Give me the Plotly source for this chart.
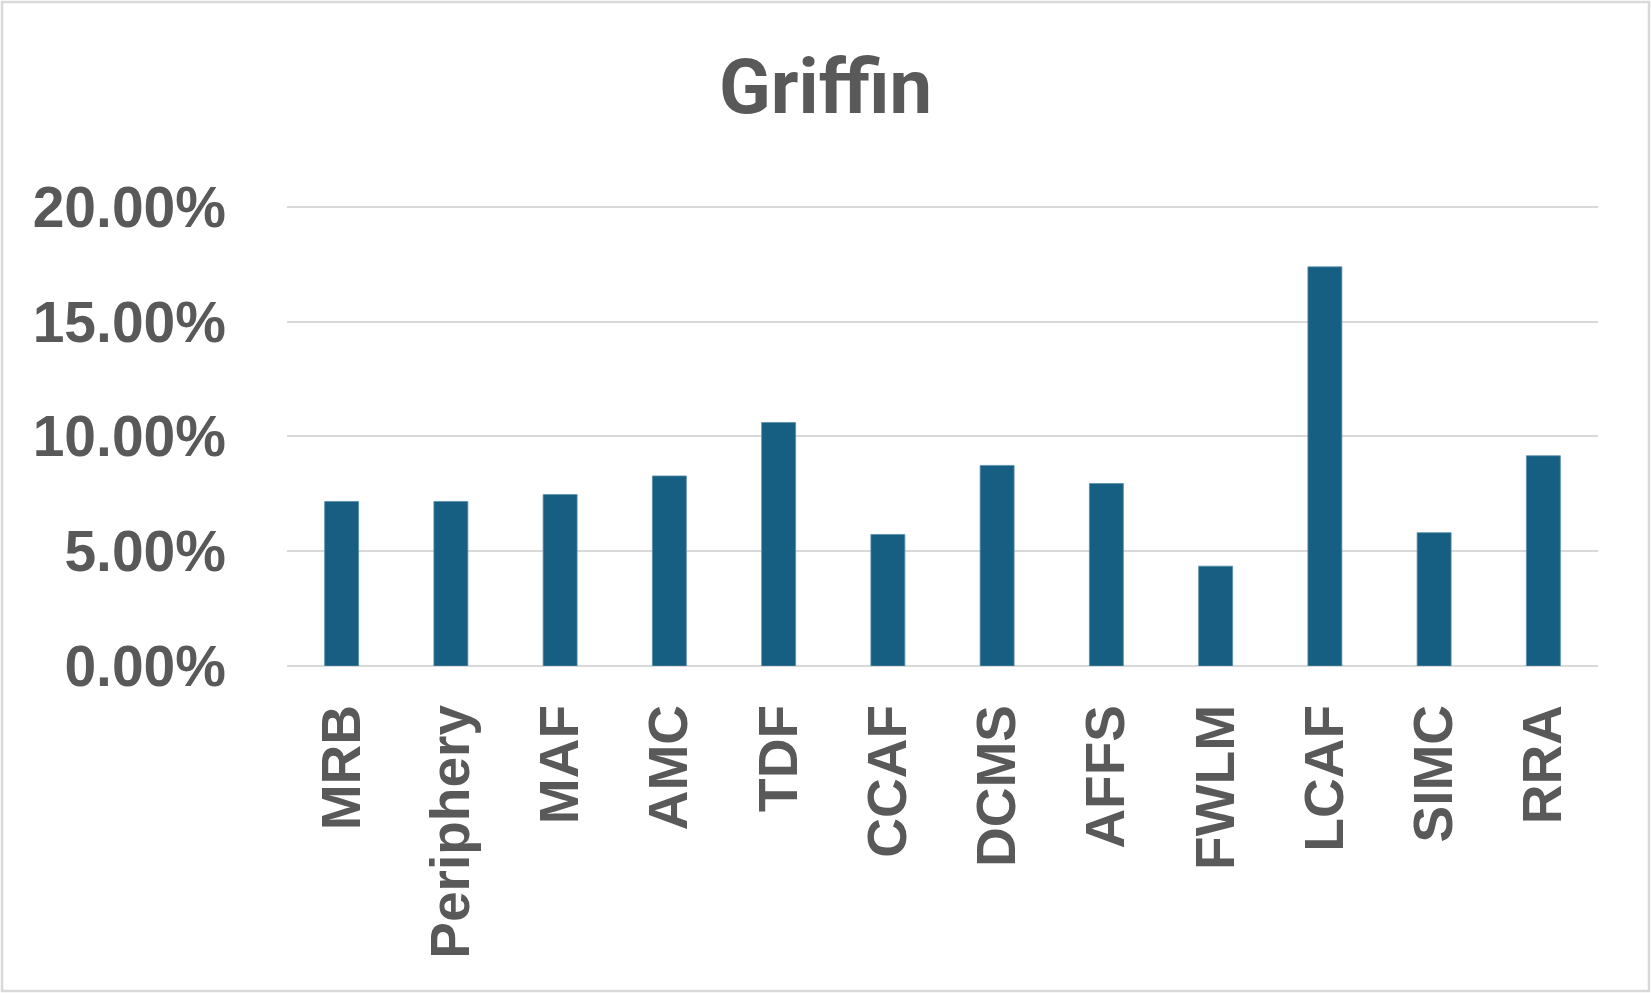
import plotly.graph_objects as go

categories = ["MRB", "Periphery", "MAF", "AMC", "TDF", "CCAF", "DCMS", "AFFS",
              "FWLM", "LCAF", "SIMC", "RRA"]
values = [0.0717, 0.0717, 0.0747, 0.0828, 0.1061, 0.0573, 0.0874, 0.0795,
          0.0435, 0.1739, 0.0581, 0.0916]
y_ticks = [0.0, 0.05, 0.10, 0.15, 0.20]
y_tick_labels = ["0.00%", "5.00%", "10.00%", "15.00%", "20.00%"]
title_text = "Griffin"

W, H = 1651, 993
Y_TOP = 0.21
ML, MR, MB = 287, 53, 327
PLOT_H_20 = (H - MB) - 207          # pixel height from 0% to 20%
MT = int(round((H - MB) - PLOT_H_20 * Y_TOP / 0.20))

TEXT = "#595959"
GRID = "#d9d9d9"
BAR = "#165f82"

fig = go.Figure(
    go.Bar(
        x=categories,
        y=values,
        marker=dict(color=BAR, line=dict(color="#5a8fab", width=0.8)),
        hoverinfo="x+y",
    )
)

fig.update_layout(
    width=W,
    height=H,
    margin=dict(l=ML, r=MR, t=MT, b=MB, pad=0),
    paper_bgcolor="white",
    plot_bgcolor="white",
    bargap=0.689,
    showlegend=False,
    title=dict(
        text=title_text,
        x=0.5,
        xanchor="center",
        xref="container",
        y=1 - 86 / H,
        yanchor="middle",
        yref="container",
        font=dict(family="Roboto", size=76, color=TEXT, weight="bold"),
    ),
    font=dict(family="Liberation Sans", color=TEXT),
)

fig.update_yaxes(
    range=[0, Y_TOP],
    tickvals=y_ticks,
    ticktext=y_tick_labels,
    showgrid=True,
    gridcolor=GRID,
    gridwidth=2,
    zeroline=True,
    zerolinecolor=GRID,
    zerolinewidth=2,
    showline=False,
    ticks="",
    ticklabelstandoff=60,
    tickfont=dict(family="Liberation Sans", size=57, color=TEXT, weight="bold"),
    fixedrange=True,
)

fig.update_xaxes(
    tickangle=-90,
    showgrid=False,
    showline=False,
    ticks="",
    ticklabelstandoff=27,
    tickfont=dict(family="Liberation Sans", size=55, color=TEXT, weight="bold"),
    fixedrange=True,
)

# light gray frame around the whole chart area
fig.add_shape(
    type="rect",
    xref="paper", yref="paper",
    x0=-(ML - 2) / (W - ML - MR), x1=1 + (MR - 2) / (W - ML - MR),
    y0=-(MB - 2) / (H - MT - MB), y1=1 + (MT - 2) / (H - MT - MB),
    line=dict(color=GRID, width=2.5),
    fillcolor="rgba(0,0,0,0)",
    layer="below",
)

fig.write_html(
    "out.html",
    config={"displayModeBar": False, "staticPlot": False},
    post_script="document.body.style.margin='0';document.body.style.overflow='hidden';",
)
